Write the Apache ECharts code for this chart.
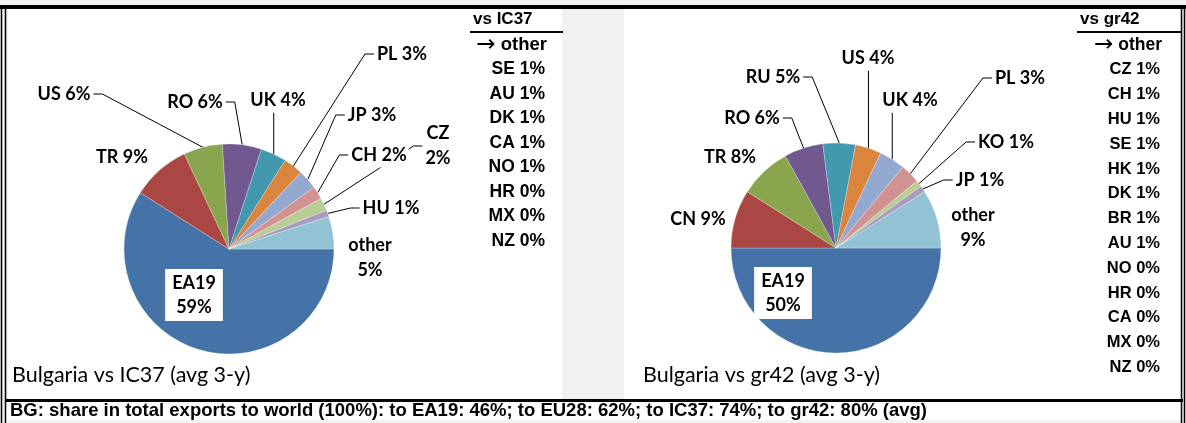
<!DOCTYPE html>
<html>
<head>
<meta charset="utf-8">
<script src="https://cdn.jsdelivr.net/npm/echarts@6/dist/echarts.min.js"></script>
<style>
html, body { margin: 0; padding: 0; background: #f2f2f2; }
#chart { width: 1186px; height: 423px; }
</style>
</head>
<body>
<div id="chart"></div>
<script>
// left pie: Bulgaria vs IC37
const leftNames = ['EA19', 'TR', 'US', 'RO', 'UK', 'PL', 'JP', 'CH', 'CZ', 'HU', 'other']
const leftValues = [59, 9, 6, 6, 4, 3, 3, 2, 2, 1, 5]
const leftOtherNames = ['SE', 'AU', 'DK', 'CA', 'NO', 'HR', 'MX', 'NZ']
const leftOtherValues = [1, 1, 1, 1, 1, 0, 0, 0]
// right pie: Bulgaria vs gr42
const rightNames = ['EA19', 'CN', 'TR', 'RO', 'RU', 'US', 'UK', 'PL', 'KO', 'JP', 'other']
const rightValues = [50, 9, 8, 6, 5, 4, 4, 3, 1, 1, 9]
const rightOtherNames = ['CZ', 'CH', 'HU', 'SE', 'HK', 'DK', 'BR', 'AU', 'NO', 'HR', 'CA', 'MX', 'NZ']
const rightOtherValues = [1, 1, 1, 1, 1, 1, 1, 1, 0, 0, 0, 0, 0]

const leftTitle = 'Bulgaria vs IC37 (avg 3-y)'
const rightTitle = 'Bulgaria vs gr42 (avg 3-y)'
const footText = 'BG: share in total exports to world (100%): to EA19: 46%; to EU28: 62%; to IC37: 74%; to gr42: 80% (avg)'

const colors = ['#4572A7', '#AA4643', '#89A54E', '#71588F', '#4198AF', '#DB843D',
  '#93A9CF', '#D19392', '#B9CD96', '#A99BBD', '#92C3D5']

const labelFont = 'Lato, "Open Sans", sans-serif'
const tableFont = '"Liberation Sans", Arial, sans-serif'

// labels split on two lines, and labels drawn without a leader
const twoLines = ['EA19', 'CZ', 'other']
const noLeader = ['TR', 'CN', 'other']

// where each label sits (centre) and from which side its leader leaves: l / r / b
const leftLabelPos = {
  EA19: [194, 295], TR: [122, 157], US: [64, 94, 'r'], RO: [195, 102, 'r'], UK: [278, 100, 'b'],
  PL: [402, 54, 'l'], JP: [372, 115, 'l'], CH: [379, 155, 'l'], CZ: [438, 146, 'l'],
  HU: [391, 208, 'l'], other: [370, 258]
}
const rightLabelPos = {
  EA19: [783, 293], CN: [698, 219], TR: [730, 157], RO: [752, 118, 'r'], RU: [773, 77, 'r'],
  US: [868, 58, 'b'], UK: [910, 100, 'b'], PL: [1020, 78, 'l'], KO: [1006, 142, 'l'],
  JP: [980, 180, 'l'], other: [973, 228]
}

function buildData(names, values) {
  return names.map((n, i) => {
    const item = { name: n, value: values[i], itemStyle: { color: colors[i] } }
    if (n === 'EA19') {
      item.label = {
        position: 'inside',
        backgroundColor: '#fff',
        padding: [2, 7, 2, 7],
        lineHeight: 24
      }
    } else {
      // the label box hides leaders that pass behind it, as in the original
      item.label = { backgroundColor: '#fff', padding: [0, 2] }
    }
    if (noLeader.includes(n)) item.labelLine = { show: false }
    return item
  })
}

function makeLayout(names, pos) {
  return params => {
    const p = pos[names[params.dataIndex]]
    if (!p) return {}
    const cx = p[0], cy = p[1], side = p[2]
    const w = params.labelRect.width, h = params.labelRect.height
    const out = { x: cx, y: cy, align: 'center', verticalAlign: 'middle' }
    const pts = params.labelLinePoints
    if (pts && side) {
      const e = pts[0].slice()
      if (side === 'l') out.labelLinePoints = [e, [cx - w / 2 - 10, cy], [cx - w / 2 - 1, cy]]
      else if (side === 'r') out.labelLinePoints = [e, [cx + w / 2 + 10, cy], [cx + w / 2 + 1, cy]]
      else out.labelLinePoints = [e, [e[0], cy + h / 2], [e[0], cy + h / 2]]
    }
    return out
  }
}

function pieSeries(names, values, center, pos) {
  return {
    type: 'pie',
    center: center,
    radius: 105,
    startAngle: 0,
    clockwise: true,
    avoidLabelOverlap: false,
    data: buildData(names, values),
    itemStyle: { borderColor: 'rgba(255,255,255,0.5)', borderWidth: 0.5 },
    label: {
      color: '#000',
      fontFamily: labelFont,
      fontWeight: 'bold',
      fontSize: 18,
      lineHeight: 25,
      formatter: p => twoLines.includes(p.name) ? p.name + '\n' + p.value + '%' : p.name + ' ' + p.value + '%'
    },
    labelLine: {
      show: true,
      length: 18,
      length2: 12,
      lineStyle: { color: '#000', width: 1 }
    },
    labelLayout: makeLayout(names, pos),
    emphasis: { disabled: true }
  }
}

function tableGraphics(title, names, values, left, right, textRight, top, step, fontSize) {
  const g = []
  g.push({
    type: 'text', x: left + 3, y: top - 14,
    style: { text: title, font: 'bold 17px ' + tableFont, fill: '#000', verticalAlign: 'middle' }
  })
  g.push({
    type: 'line', shape: { x1: left, y1: top - 1, x2: right, y2: top - 1 },
    style: { stroke: '#000', lineWidth: 2 }
  })
  const rows = ['{a|\u2192}{b| other}'].concat(names.map((n, i) => n + ' ' + values[i] + '%'))
  rows.forEach((t, i) => {
    g.push({
      type: 'text', x: textRight + (i === 0 ? 2 : 0), y: top + 12 + i * step,
      style: {
        text: t, font: 'bold ' + fontSize + 'px ' + tableFont, fill: '#000', align: 'right', verticalAlign: 'middle',
        rich: {
          a: { font: '23px "DejaVu Sans"', fill: '#000' },
          b: { font: 'bold ' + (fontSize + 1) + 'px ' + tableFont, fill: '#000' }
        }
      }
    })
  })
  return g
}

const chart = echarts.init(document.getElementById('chart'))

const graphics = [
  // panels
  { type: 'rect', shape: { x: 8, y: 9, width: 554, height: 390 }, style: { fill: '#fff' }, z: -10 },
  { type: 'rect', shape: { x: 624, y: 9, width: 558, height: 390 }, style: { fill: '#fff' }, z: -10 },
  { type: 'rect', shape: { x: 6, y: 402, width: 1177, height: 18 }, style: { fill: '#fff' }, z: -10 },
  // frame
  { type: 'rect', shape: { x: 0, y: 5, width: 1186, height: 4 }, style: { fill: '#000' } },
  { type: 'rect', shape: { x: 6, y: 399, width: 1177, height: 3 }, style: { fill: '#000' } },
  { type: 'line', shape: { x1: 1.5, y1: 5, x2: 1.5, y2: 423 }, style: { stroke: '#000', lineWidth: 1.5 } },
  { type: 'line', shape: { x1: 5.5, y1: 5, x2: 5.5, y2: 423 }, style: { stroke: '#000', lineWidth: 1.5 } },
  { type: 'line', shape: { x1: 1181.5, y1: 5, x2: 1181.5, y2: 423 }, style: { stroke: '#000', lineWidth: 1.5 } },
  { type: 'line', shape: { x1: 1184.5, y1: 5, x2: 1184.5, y2: 423 }, style: { stroke: '#000', lineWidth: 1.5 } },
  // captions
  { type: 'text', x: 12, y: 375, style: { text: leftTitle, font: '21.5px ' + labelFont, fill: '#000', verticalAlign: 'middle' } },
  { type: 'text', x: 643, y: 375, style: { text: rightTitle, font: '21.5px ' + labelFont, fill: '#000', verticalAlign: 'middle' } },
  { type: 'text', x: 10, y: 411, style: { text: footText, font: 'bold 18.5px ' + tableFont, fill: '#000', verticalAlign: 'middle' } }
]
  .concat(tableGraphics('vs IC37', leftOtherNames, leftOtherValues, 470, 563, 545, 33, 24.5, 17.5))
  .concat(tableGraphics('vs gr42', rightOtherNames, rightOtherValues, 1077, 1181, 1160, 33, 24.8, 16.5))

chart.setOption({
  animation: false,
  backgroundColor: '#f2f2f2',
  graphic: graphics,
  series: [
    pieSeries(leftNames, leftValues, [229, 249], leftLabelPos),
    pieSeries(rightNames, rightValues, [836, 248], rightLabelPos)
  ]
})
</script>
</body>
</html>
